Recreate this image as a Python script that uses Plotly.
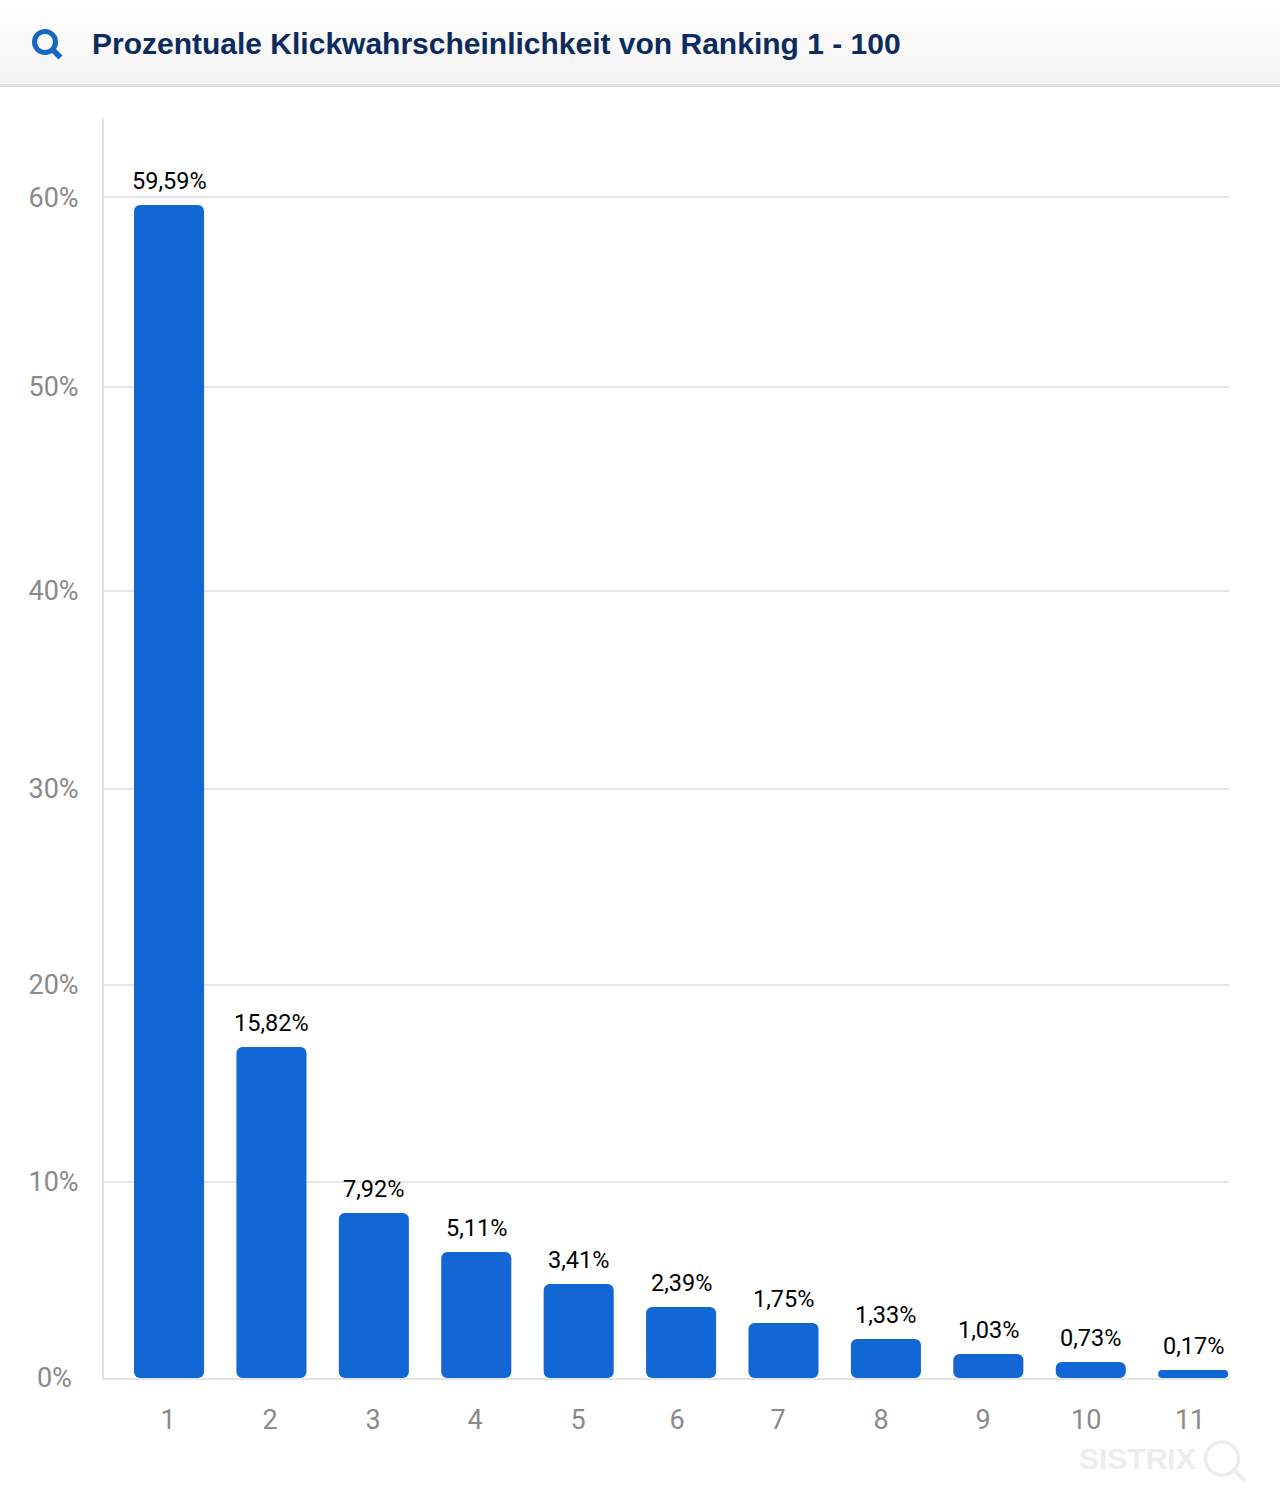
import plotly.graph_objects as go

ranks = [1, 2, 3, 4, 5, 6, 7, 8, 9, 10, 11]
bar_heights = [59.6, 16.82, 8.38, 6.40, 4.78, 3.61, 2.79, 1.98, 1.22, 0.81, 0.41]
bar_labels = ["59,59%", "15,82%", "7,92%", "5,11%", "3,41%", "2,39%", "1,75%", "1,33%", "1,03%", "0,73%", "0,17%"]
y_tick_values = [0, 9.96, 19.97, 29.93, 39.99, 50.35, 60]
y_tick_labels = ["0%\u00a0", "10%", "20%", "30%", "40%", "50%", "60%"]
x_tick_values = [0.99, 1.986, 2.992, 3.988, 4.994, 5.96, 6.947, 7.953, 8.949, 9.955, 10.97]
x_tick_labels = ["1", "2", "3", "4", "5", "6", "7", "8", "9", "10", "11"]
title_text = "Prozentuale Klickwahrscheinlichkeit von Ranking 1 - 100"

W, H = 1280, 1508
L, R, T, B = 104, 1229, 118, 1378
BLUE = "#1367d4"


def px(x):
    return (x - L) / (R - L)


def py(y):
    return (B - y) / (B - T)


fig = go.Figure()
# A zero base makes Plotly round all four corners of each bar.
fig.add_bar(x=ranks, y=bar_heights, base=[0] * len(ranks), width=0.684,
            marker=dict(color=BLUE, line=dict(width=0), cornerradius=6),
            hoverinfo="skip", showlegend=False)

shapes = []
# Header band with soft vertical gradient
bands = 28
for i in range(bands):
    v = 255 - round(11 * i / (bands - 1))
    shapes.append(dict(type="rect", xref="paper", yref="paper", layer="below",
                       x0=px(0), x1=px(W), y0=py(3 * i), y1=py(3 * i + 3),
                       fillcolor=f"rgb({v},{v},{v})", line=dict(width=0)))
shapes.append(dict(type="rect", xref="paper", yref="paper", layer="below",
                   x0=px(0), x1=px(W), y0=py(84), y1=py(87), fillcolor="#dedede", line=dict(width=0)))
# Search icon in the header
shapes.append(dict(type="circle", xref="paper", yref="paper", x0=px(34.5), x1=px(55.5), y0=py(52.5), y1=py(31.5),
                   line=dict(color="#1467c4", width=5)))
shapes.append(dict(type="line", xref="paper", yref="paper", x0=px(53), x1=px(60.5), y0=py(50), y1=py(57.5),
                   line=dict(color="#1467c4", width=5.5)))
# Watermark icon
shapes.append(dict(type="circle", xref="paper", yref="paper", x0=px(1205.5), x1=px(1238.5), y0=py(1475), y1=py(1442),
                   line=dict(color="#ededed", width=3.5)))
shapes.append(dict(type="line", xref="paper", yref="paper", x0=px(1234), x1=px(1245), y0=py(1470), y1=py(1481),
                   line=dict(color="#ededed", width=4)))

annotations = [
    dict(text=f"<b>{title_text}</b>", xref="paper", yref="paper", x=px(90), y=py(44), xanchor="left", yanchor="middle",
         showarrow=False, font=dict(family="Liberation Sans", size=30, color="#0c2b5e")),
    dict(text="<b>SISTRIX</b>", xref="paper", yref="paper", x=px(1137), y=py(1458), xanchor="center", yanchor="middle",
         showarrow=False, font=dict(family="Liberation Sans", size=30, color="#ededed")),
]
for r, h, t in zip(ranks, bar_heights, bar_labels):
    annotations.append(dict(text=t, x=r, y=h, xref="x", yref="y", yanchor="middle", xanchor="center", yshift=24,
                            showarrow=False, font=dict(family="Roboto", size=23.5, color="#000000")))

fig.update_layout(
    width=W, height=H, autosize=False,
    margin=dict(l=L, r=W - R, t=T, b=H - B, pad=0),
    paper_bgcolor="#ffffff", plot_bgcolor="#ffffff",
    shapes=shapes, annotations=annotations,
    font=dict(family="Roboto"),
)
fig.update_xaxes(range=[0.365, 11.35], tickmode="array", tickvals=x_tick_values, ticktext=x_tick_labels,
                 showgrid=False, zeroline=False, showline=True, linecolor="#e4e4e4", linewidth=2,
                 ticks="outside", ticklen=17, tickcolor="rgba(0,0,0,0)",
                 tickfont=dict(family="Roboto", size=27, color="#8a8a8a"))
fig.update_yaxes(range=[0, 64.02], tickmode="array", tickvals=y_tick_values, ticktext=y_tick_labels,
                 showgrid=True, gridcolor="#e6e6e6", gridwidth=2, zeroline=False,
                 showline=True, linecolor="#e0e0e0", linewidth=2,
                 ticks="outside", ticklen=18, tickcolor="rgba(0,0,0,0)",
                 tickfont=dict(family="Roboto", size=27, color="#8a8a8a"))

fig.write_html("out.html", config={"displayModeBar": False},
               post_script="document.body.style.margin='0';")
